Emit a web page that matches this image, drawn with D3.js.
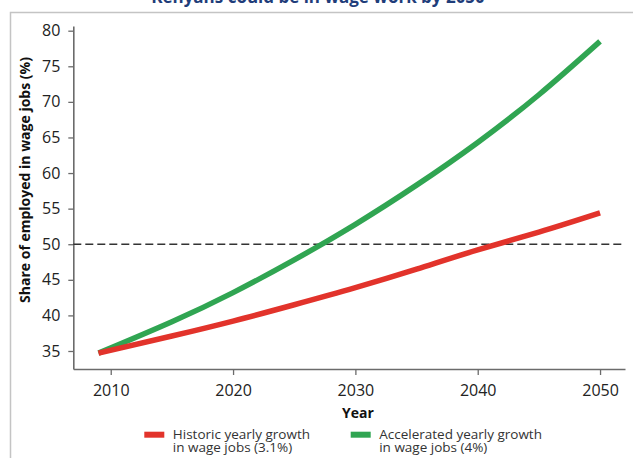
<!DOCTYPE html>
<html>
<head>
<meta charset="utf-8">
<script src="https://cdn.jsdelivr.net/npm/d3@7"></script>
<style>
  html, body { margin: 0; padding: 0; background: #fff; }
  svg { display: block; font-family: "Open Sans", sans-serif; }
</style>
</head>
<body>
<svg id="chart" width="633" height="458"></svg>
<script>
const title = "Kenyans could be in wage work by 2050";
const years = [2009, 2015, 2020, 2025, 2030, 2035, 2040, 2045, 2050];
const historic = [34.7, 37.1, 39.2, 41.5, 43.9, 46.5, 49.2, 51.7, 54.4];
const accelerated = [34.7, 39.1, 43.2, 47.8, 52.8, 58.3, 64.3, 71.0, 78.5];
const xTicks = [2010, 2020, 2030, 2040, 2050];
const yTicks = [35, 40, 45, 50, 55, 60, 65, 70, 75, 80];
const threshold = 50;
const seriesNames = ["Historic yearly growth\nin wage jobs (3.1%)", "Accelerated yearly growth\nin wage jobs (4%)"];
const colors = ["#e2332b", "#30a552"];

const svg = d3.select("#chart");

// frame
svg.append("path").attr("d", "M10.5,458 V12.5 H633")
  .attr("fill", "none").attr("stroke", "#c4c4c4").attr("stroke-width", 1.5);

// title (clipped at top, as in the source)
svg.append("text").attr("x", 318).attr("y", 3).attr("text-anchor", "middle")
  .attr("font-size", 17).attr("font-weight", 700).attr("fill", "#1f3d7a").text(title);

const x = d3.scaleLinear().domain([2006.94, 2052.04]).range([73.3, 625]);
const y = d3.scaleLinear().domain([32.47, 80.66]).range([369, 26]);

// axes
const xAxis = svg.append("g").attr("transform", "translate(0,369)")
  .call(d3.axisBottom(x).tickValues(xTicks).tickFormat(d3.format("d")).tickSize(6).tickSizeOuter(0));
const yAxis = svg.append("g").attr("transform", "translate(73.3,0)")
  .call(d3.axisLeft(y).tickValues(yTicks).tickSize(5).tickSizeOuter(0));
[xAxis, yAxis].forEach(g => {
  g.select(".domain").attr("stroke", "#6b6b6b").attr("stroke-width", 1.6);
  g.selectAll(".tick line").attr("stroke", "#6b6b6b").attr("stroke-width", 1.3);
  g.selectAll("text").attr("font-family", "Open Sans").attr("font-size", 16).attr("fill", "#222");
});
xAxis.selectAll("text").attr("dy", null).attr("y", 26.5);
yAxis.selectAll("text").attr("x", -13);

// threshold dashed line
svg.append("line").attr("x1", x(2006.94)).attr("x2", x(2052.04))
  .attr("y1", y(threshold)).attr("y2", y(threshold))
  .attr("stroke", "#333").attr("stroke-width", 1.5).attr("stroke-dasharray", "8,4");

// lines
const line = d3.line().x((d, i) => x(years[i])).y(d => y(d)).curve(d3.curveNatural);
[[accelerated, colors[1]], [historic, colors[0]]].forEach(([vals, c]) => {
  svg.append("path").attr("d", line(vals)).attr("fill", "none")
    .attr("stroke", c).attr("stroke-width", 5.5);
});

// axis titles
svg.append("text").attr("x", 358).attr("y", 418).attr("text-anchor", "middle")
  .attr("font-size", 14).attr("font-weight", 700).attr("fill", "#111").text("Year");
svg.append("text").attr("transform", "translate(30,180) rotate(-90)").attr("text-anchor", "middle")
  .attr("font-size", 14).attr("font-weight", 700).attr("fill", "#111").text("Share of employed in wage jobs (%)");

// legend
const legendX = [144.3, 350.7];
seriesNames.forEach((name, i) => {
  const g = svg.append("g");
  g.append("rect").attr("x", legendX[i]).attr("y", 431.7).attr("width", 20).attr("height", 6).attr("fill", colors[i]);
  const t = g.append("text").attr("x", legendX[i] + 28.5).attr("y", 438.5)
    .attr("font-size", 13.5).attr("fill", "#333");
  name.split("\n").forEach((ln, j) => {
    t.append("tspan").attr("x", legendX[i] + 28.5).attr("y", 438.5 + j * 13.8).text(ln);
  });
});
</script>
</body>
</html>
